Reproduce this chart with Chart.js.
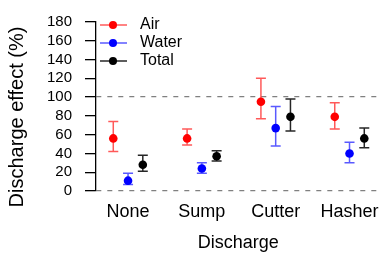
<!DOCTYPE html>
<html>
<head>
<meta charset="utf-8">
<script src="https://cdn.jsdelivr.net/npm/chart.js@4.4.1/dist/chart.umd.min.js"></script>
<style>
  html,body{margin:0;padding:0;background:#fff;}
  #wrap{width:389px;height:254px;}
</style>
</head>
<body>
<div id="wrap"><canvas id="chart" width="389" height="254"></canvas></div>
<script>
/* data */
const categories = ["None", "Sump", "Cutter", "Hasher"];
const yTicks = [0, 20, 40, 60, 80, 100, 120, 140, 160, 180];

const airMean   = [56, 56, 95, 79];
const airLow    = [42, 49, 77, 66];
const airHigh   = [74, 66, 120, 94];
const waterMean = [11, 24, 67, 40];
const waterLow  = [7, 19, 48, 30];
const waterHigh = [19, 30, 90, 52];
const totalMean = [28, 37, 79, 56];
const totalLow  = [21, 32, 64, 46];
const totalHigh = [38, 43, 98, 67];

const FONT = "'Liberation Sans', Arial, sans-serif";
Chart.defaults.font.family = FONT;
Chart.defaults.color = "#000";

const series = [
  {label:"Air",   mean:airMean,   low:airLow,   high:airHigh,   color:"#ff0000", bar:"rgba(255,0,0,0.65)", shift:-0.2},
  {label:"Water", mean:waterMean, low:waterLow, high:waterHigh, color:"#0000ff", bar:"rgba(0,0,255,0.65)", shift:0},
  {label:"Total", mean:totalMean, low:totalLow, high:totalHigh, color:"#000000", bar:"rgba(0,0,0,0.85)",   shift:0.2},
];

/* legend symbol: short line with a dot */
function legendSymbol(lineCol, dotCol){
  const c=document.createElement("canvas");
  c.width=34; c.height=10;
  const g=c.getContext("2d");
  g.strokeStyle=lineCol; g.lineWidth=1.5;
  g.beginPath(); g.moveTo(2,5); g.lineTo(29,5); g.stroke();
  g.fillStyle=dotCol;
  g.beginPath(); g.arc(15,5,4,0,Math.PI*2); g.fill();
  return c;
}
const symbols = series.map(s=>legendSymbol(s.bar, s.color));

/* error bars */
const errorBars = {
  id:"errorBars",
  beforeDatasetsDraw(chart){
    const ctx=chart.ctx, ys=chart.scales.y;
    series.forEach((s,d)=>{
      const meta=chart.getDatasetMeta(d);
      ctx.save();
      ctx.strokeStyle=s.bar; ctx.lineWidth=1.5;
      meta.data.forEach((pt,i)=>{
        const x=pt.x, y1=ys.getPixelForValue(s.low[i]), y2=ys.getPixelForValue(s.high[i]);
        ctx.beginPath();
        ctx.moveTo(x,y1); ctx.lineTo(x,y2);
        ctx.moveTo(x-5,y1); ctx.lineTo(x+5,y1);
        ctx.moveTo(x-5,y2); ctx.lineTo(x+5,y2);
        ctx.stroke();
      });
      ctx.restore();
    });
  }
};

/* y title, centred like the reference */
const yTitle = {
  id:"yTitle",
  afterDraw(chart){
    const ctx=chart.ctx;
    ctx.save();
    ctx.translate(17,117);
    ctx.rotate(-Math.PI/2);
    ctx.font="20px "+FONT;
    ctx.fillStyle="#000";
    ctx.textAlign="center"; ctx.textBaseline="middle";
    ctx.fillText("Discharge effect (%)",0,0);
    ctx.restore();
  }
};

const legendTop = {
  id:"legendTop",
  afterLayout(chart){
    if(chart.legend){
      const h=chart.legend.height;
      chart.legend.top=chart.chartArea.top-7;
      chart.legend.bottom=chart.legend.top+h;
      chart.legend.left=chart.chartArea.left;
    }
  }
};

new Chart(document.getElementById("chart"),{
  type:"scatter",
  data:{
    datasets:series.map(s=>({
      label:s.label,
      data:s.mean.map((v,i)=>({x:i+1+s.shift, y:v})),
      backgroundColor:s.color,
      borderColor:s.color,
      pointRadius:4.3,
      pointHoverRadius:4.3,
      pointBorderWidth:0,
      pointStyle:"circle",
      showLine:false
    }))
  },
  options:{
    responsive:false,
    animation:false,
    devicePixelRatio:1,
    layout:{padding:{left:0,top:13,right:0,bottom:0}},
    plugins:{
      tooltip:{enabled:false},
      legend:{
        position:"chartArea",
        align:"start",
        labels:{
          usePointStyle:true,
          pointStyleWidth:34,
          padding:2,
          font:{size:16},
          color:"#000",
          generateLabels:chart=>{
            const items=Chart.defaults.plugins.legend.labels.generateLabels(chart);
            items.forEach((it,i)=>{ it.pointStyle=symbols[i]; });
            return items;
          }
        }
      }
    },
    scales:{
      x:{
        type:"linear",
        min:0.566, max:4.42,
        grid:{display:false, drawTicks:false},
        border:{display:false},
        afterBuildTicks:sc=>{ sc.ticks=categories.map((c,i)=>({value:i+1})); },
        afterFit:sc=>{ sc.height=63; },
        ticks:{
          font:{size:18},
          padding:10,
          autoSkip:false,
          maxRotation:0,
          callback:v=>categories[v-1]
        },
        title:{display:true, text:"Discharge", font:{size:18}, padding:{top:6,bottom:0}}
      },
      y:{
        min:0, max:180,
        afterBuildTicks:sc=>{ sc.ticks=yTicks.map(v=>({value:v})); },
        afterFit:sc=>{ sc.width=96; },
        grid:{
          color:c=>(c.tick && (c.tick.value===0||c.tick.value===100))?"#808080":"rgba(0,0,0,0)",
          lineWidth:1.3,
          drawTicks:true,
          tickLength:11,
          tickColor:"#000",
          tickWidth:1.3
        },
        border:{display:true, color:"#000", width:1.3, dash:[5,6]},
        ticks:{font:{size:15}, padding:13, color:"#000", autoSkip:false}
      }
    }
  },
  plugins:[errorBars, yTitle, legendTop]
});
</script>
</body>
</html>
